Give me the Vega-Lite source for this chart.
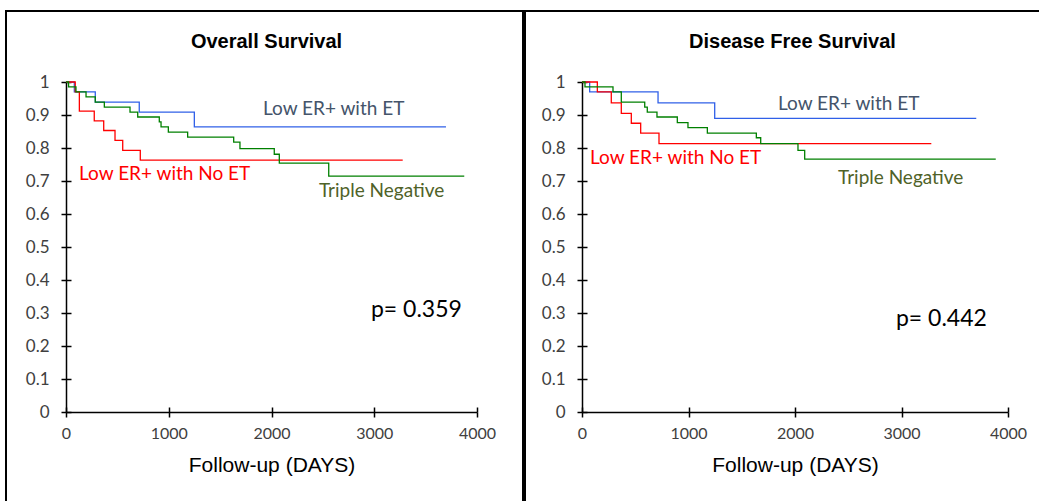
{
  "$schema": "https://vega.github.io/schema/vega-lite/v6.json",
  "padding": {"left": 5, "top": 10, "right": 0, "bottom": 0},
  "autosize": {"type": "pad"},
  "background": "#ffffff",
  "spacing": 0,
  "config": {
    "view": {"stroke": "#000000", "strokeWidth": 2},
    "axis": {"grid": false, "labelFlush": false, "labelOverlap": false}
  },
  "datasets": {
    "curves": [
      {"panel": "OS", "group": "Low ER+ with ET", "day": 0, "surv": 1},
      {"panel": "OS", "group": "Low ER+ with ET", "day": 81, "surv": 0.970},
      {"panel": "OS", "group": "Low ER+ with ET", "day": 285, "surv": 0.939},
      {"panel": "OS", "group": "Low ER+ with ET", "day": 713, "surv": 0.909},
      {"panel": "OS", "group": "Low ER+ with ET", "day": 1249, "surv": 0.864},
      {"panel": "OS", "group": "Low ER+ with ET", "day": 3698, "surv": 0.864},
      {"panel": "OS", "group": "Low ER+ with No ET", "day": 0, "surv": 1},
      {"panel": "OS", "group": "Low ER+ with No ET", "day": 90, "surv": 0.970},
      {"panel": "OS", "group": "Low ER+ with No ET", "day": 130, "surv": 0.912},
      {"panel": "OS", "group": "Low ER+ with No ET", "day": 275, "surv": 0.882},
      {"panel": "OS", "group": "Low ER+ with No ET", "day": 367, "surv": 0.853},
      {"panel": "OS", "group": "Low ER+ with No ET", "day": 477, "surv": 0.823},
      {"panel": "OS", "group": "Low ER+ with No ET", "day": 552, "surv": 0.793},
      {"panel": "OS", "group": "Low ER+ with No ET", "day": 723, "surv": 0.763},
      {"panel": "OS", "group": "Low ER+ with No ET", "day": 3277, "surv": 0.763},
      {"panel": "OS", "group": "Triple Negative", "day": 0, "surv": 1},
      {"panel": "OS", "group": "Triple Negative", "day": 25, "surv": 0.985},
      {"panel": "OS", "group": "Triple Negative", "day": 97, "surv": 0.970},
      {"panel": "OS", "group": "Triple Negative", "day": 195, "surv": 0.955},
      {"panel": "OS", "group": "Triple Negative", "day": 285, "surv": 0.939},
      {"panel": "OS", "group": "Triple Negative", "day": 373, "surv": 0.924},
      {"panel": "OS", "group": "Triple Negative", "day": 623, "surv": 0.909},
      {"panel": "OS", "group": "Triple Negative", "day": 698, "surv": 0.894},
      {"panel": "OS", "group": "Triple Negative", "day": 908, "surv": 0.879},
      {"panel": "OS", "group": "Triple Negative", "day": 925, "surv": 0.864},
      {"panel": "OS", "group": "Triple Negative", "day": 996, "surv": 0.848},
      {"panel": "OS", "group": "Triple Negative", "day": 1184, "surv": 0.833},
      {"panel": "OS", "group": "Triple Negative", "day": 1632, "surv": 0.818},
      {"panel": "OS", "group": "Triple Negative", "day": 1693, "surv": 0.798},
      {"panel": "OS", "group": "Triple Negative", "day": 2027, "surv": 0.781},
      {"panel": "OS", "group": "Triple Negative", "day": 2076, "surv": 0.754},
      {"panel": "OS", "group": "Triple Negative", "day": 2557, "surv": 0.715},
      {"panel": "OS", "group": "Triple Negative", "day": 3876, "surv": 0.715},
      {"panel": "DFS", "group": "Low ER+ with ET", "day": 0, "surv": 1},
      {"panel": "DFS", "group": "Low ER+ with ET", "day": 72, "surv": 0.970},
      {"panel": "DFS", "group": "Low ER+ with ET", "day": 714, "surv": 0.937},
      {"panel": "DFS", "group": "Low ER+ with ET", "day": 1246, "surv": 0.890},
      {"panel": "DFS", "group": "Low ER+ with ET", "day": 3702, "surv": 0.890},
      {"panel": "DFS", "group": "Low ER+ with No ET", "day": 0, "surv": 1},
      {"panel": "DFS", "group": "Low ER+ with No ET", "day": 144, "surv": 0.970},
      {"panel": "DFS", "group": "Low ER+ with No ET", "day": 275, "surv": 0.937},
      {"panel": "DFS", "group": "Low ER+ with No ET", "day": 369, "surv": 0.905},
      {"panel": "DFS", "group": "Low ER+ with No ET", "day": 463, "surv": 0.875},
      {"panel": "DFS", "group": "Low ER+ with No ET", "day": 551, "surv": 0.845},
      {"panel": "DFS", "group": "Low ER+ with No ET", "day": 723, "surv": 0.813},
      {"panel": "DFS", "group": "Low ER+ with No ET", "day": 3280, "surv": 0.813},
      {"panel": "DFS", "group": "Triple Negative", "day": 0, "surv": 1},
      {"panel": "DFS", "group": "Triple Negative", "day": 28, "surv": 0.985},
      {"panel": "DFS", "group": "Triple Negative", "day": 291, "surv": 0.970},
      {"panel": "DFS", "group": "Triple Negative", "day": 369, "surv": 0.939},
      {"panel": "DFS", "group": "Triple Negative", "day": 589, "surv": 0.924},
      {"panel": "DFS", "group": "Triple Negative", "day": 613, "surv": 0.909},
      {"panel": "DFS", "group": "Triple Negative", "day": 704, "surv": 0.894},
      {"panel": "DFS", "group": "Triple Negative", "day": 895, "surv": 0.877},
      {"panel": "DFS", "group": "Triple Negative", "day": 995, "surv": 0.862},
      {"panel": "DFS", "group": "Triple Negative", "day": 1177, "surv": 0.845},
      {"panel": "DFS", "group": "Triple Negative", "day": 1637, "surv": 0.831},
      {"panel": "DFS", "group": "Triple Negative", "day": 1678, "surv": 0.813},
      {"panel": "DFS", "group": "Triple Negative", "day": 2028, "surv": 0.793},
      {"panel": "DFS", "group": "Triple Negative", "day": 2091, "surv": 0.766},
      {"panel": "DFS", "group": "Triple Negative", "day": 3885, "surv": 0.766}
    ],
    "notes": [
      {"panel": "OS", "kind": "ET", "label": "Low ER+ with ET", "tx": 1917, "ty": 0.918},
      {"panel": "OS", "kind": "NoET", "label": "Low ER+ with No ET", "tx": 127, "ty": 0.721},
      {"panel": "OS", "kind": "TN", "label": "Triple Negative", "tx": 2462, "ty": 0.670},
      {"panel": "OS", "kind": "p", "label": "p= 0.359", "tx": 2968, "ty": 0.309},
      {"panel": "DFS", "kind": "ET", "label": "Low ER+ with ET", "tx": 1840, "ty": 0.933},
      {"panel": "DFS", "kind": "NoET", "label": "Low ER+ with No ET", "tx": 75, "ty": 0.770},
      {"panel": "DFS", "kind": "TN", "label": "Triple Negative", "tx": 2404, "ty": 0.709},
      {"panel": "DFS", "kind": "p", "label": "p= 0.442", "tx": 2948, "ty": 0.282}
    ]
  },
  "hconcat": [
    {
      "width": 517,
      "height": 491,
      "title": {"text": "Overall Survival", "frame": "group", "anchor": "middle", "offset": -41, "dx": 2, "font": "Liberation Sans", "fontSize": 20, "fontWeight": "bold", "color": "#000000"},
      "layer": [
        {
          "data": {"name": "curves"},
          "transform": [{"filter": "datum.panel === 'OS'"}],
          "mark": {"type": "line", "interpolate": "step-after", "strokeWidth": 1.3},
          "encoding": {
            "x": {"field": "day", "type": "quantitative",
                  "scale": {"domain": [0, 4000], "range": [60, 471], "nice": false, "zero": false},
                  "axis": {"orient": "bottom", "offset": -90, "values": [0, 1000, 2000, 3000, 4000], "format": "d", "title": "Follow-up (DAYS)",
                           "domainColor": "#000000", "domainWidth": 1.5, "tickColor": "#000000", "tickWidth": 1.5, "tickSize": 5,
                           "labelFont": "Lato", "labelFontSize": 16, "labelColor": "#404040", "labelPadding": 8,
                           "titleFont": "Liberation Sans", "titleFontSize": 21, "titleFontWeight": "normal", "titleColor": "#000000", "titlePadding": 13}},
            "y": {"field": "surv", "type": "quantitative",
                  "scale": {"domain": [0, 1], "range": [401, 71], "nice": false, "zero": false},
                  "axis": {"orient": "left", "offset": -60, "values": [0, 0.1, 0.2, 0.3, 0.4, 0.5, 0.6, 0.7, 0.8, 0.9, 1], "format": "~g", "title": null,
                           "domainColor": "#000000", "domainWidth": 1.5, "tickColor": "#000000", "tickWidth": 1.5, "tickSize": 5,
                           "labelFont": "Lato", "labelFontSize": 17, "labelColor": "#404040", "labelPadding": 12}},
            "color": {"field": "group", "type": "nominal",
                      "scale": {"domain": ["Low ER+ with ET", "Low ER+ with No ET", "Triple Negative"], "range": ["#3060E8", "#FF0000", "#008000"]},
                      "legend": null}
          }
        },
        {
          "mark": {"type": "rule", "color": "#BFBFBF", "strokeWidth": 1.5},
          "encoding": {
            "x": {"datum": 0, "type": "quantitative", "axis": {"orient": "bottom", "offset": -90, "values": [0, 1000, 2000, 3000, 4000], "labels": false, "domain": false, "title": null, "tickSize": -5, "tickColor": "#000000", "tickWidth": 1.5}},
            "x2": {"datum": 4000},
            "y": {"datum": 1, "type": "quantitative", "axis": null}
          }
        },
        {
          "mark": {"type": "rule", "color": "#BFBFBF", "strokeWidth": 1.5},
          "encoding": {
            "x": {"datum": 4000, "type": "quantitative", "axis": null},
            "y": {"datum": 0, "type": "quantitative", "axis": {"orient": "left", "offset": -60, "values": [0, 0.1, 0.2, 0.3, 0.4, 0.5, 0.6, 0.7, 0.8, 0.9, 1], "labels": false, "domain": false, "title": null, "tickSize": -5, "tickColor": "#000000", "tickWidth": 1.5}},
            "y2": {"datum": 1}
          }
        },
        {
          "data": {"name": "notes"},
          "transform": [{"filter": "datum.panel === 'OS'"}],
          "mark": {"type": "text", "align": "left", "baseline": "middle", "font": "Lato"},
          "encoding": {
            "x": {"field": "tx", "type": "quantitative", "axis": null},
            "y": {"field": "ty", "type": "quantitative", "axis": null},
            "text": {"field": "label"},
            "size": {"condition": {"test": "datum.kind === 'p'", "value": 23}, "value": 19},
            "color": {"field": "kind", "type": "nominal",
                      "scale": {"domain": ["ET", "NoET", "TN", "p"], "range": ["#44546A", "#FF0000", "#4F6228", "#000000"]},
                      "legend": null}
          }
        }
      ],
      "resolve": {"scale": {"color": "independent"}, "axis": {"x": "independent", "y": "independent"}}
    },
    {
      "width": 517,
      "height": 491,
      "title": {"text": "Disease Free Survival", "frame": "group", "anchor": "middle", "offset": -41, "dx": 9, "font": "Liberation Sans", "fontSize": 20, "fontWeight": "bold", "color": "#000000"},
      "layer": [
        {
          "data": {"name": "curves"},
          "transform": [{"filter": "datum.panel === 'DFS'"}],
          "mark": {"type": "line", "interpolate": "step-after", "strokeWidth": 1.3},
          "encoding": {
            "x": {"field": "day", "type": "quantitative",
                  "scale": {"domain": [0, 4000], "range": [57, 483], "nice": false, "zero": false},
                  "axis": {"orient": "bottom", "offset": -90, "values": [0, 1000, 2000, 3000, 4000], "format": "d", "title": "Follow-up (DAYS)",
                           "domainColor": "#000000", "domainWidth": 1.5, "tickColor": "#000000", "tickWidth": 1.5, "tickSize": 5,
                           "labelFont": "Lato", "labelFontSize": 16, "labelColor": "#404040", "labelPadding": 8,
                           "titleFont": "Liberation Sans", "titleFontSize": 21, "titleFontWeight": "normal", "titleColor": "#000000", "titlePadding": 13}},
            "y": {"field": "surv", "type": "quantitative",
                  "scale": {"domain": [0, 1], "range": [401, 71], "nice": false, "zero": false},
                  "axis": {"orient": "left", "offset": -57, "values": [0, 0.1, 0.2, 0.3, 0.4, 0.5, 0.6, 0.7, 0.8, 0.9, 1], "format": "~g", "title": null,
                           "domainColor": "#000000", "domainWidth": 1.5, "tickColor": "#000000", "tickWidth": 1.5, "tickSize": 5,
                           "labelFont": "Lato", "labelFontSize": 17, "labelColor": "#404040", "labelPadding": 12}},
            "color": {"field": "group", "type": "nominal",
                      "scale": {"domain": ["Low ER+ with ET", "Low ER+ with No ET", "Triple Negative"], "range": ["#3060E8", "#FF0000", "#008000"]},
                      "legend": null}
          }
        },
        {
          "mark": {"type": "rule", "color": "#BFBFBF", "strokeWidth": 1.5},
          "encoding": {
            "x": {"datum": 0, "type": "quantitative", "axis": {"orient": "bottom", "offset": -90, "values": [0, 1000, 2000, 3000, 4000], "labels": false, "domain": false, "title": null, "tickSize": -5, "tickColor": "#000000", "tickWidth": 1.5}},
            "x2": {"datum": 4000},
            "y": {"datum": 1, "type": "quantitative", "axis": null}
          }
        },
        {
          "mark": {"type": "rule", "color": "#BFBFBF", "strokeWidth": 1.5},
          "encoding": {
            "x": {"datum": 4000, "type": "quantitative", "axis": null},
            "y": {"datum": 0, "type": "quantitative", "axis": {"orient": "left", "offset": -57, "values": [0, 0.1, 0.2, 0.3, 0.4, 0.5, 0.6, 0.7, 0.8, 0.9, 1], "labels": false, "domain": false, "title": null, "tickSize": -5, "tickColor": "#000000", "tickWidth": 1.5}},
            "y2": {"datum": 1}
          }
        },
        {
          "data": {"name": "notes"},
          "transform": [{"filter": "datum.panel === 'DFS'"}],
          "mark": {"type": "text", "align": "left", "baseline": "middle", "font": "Lato"},
          "encoding": {
            "x": {"field": "tx", "type": "quantitative", "axis": null},
            "y": {"field": "ty", "type": "quantitative", "axis": null},
            "text": {"field": "label"},
            "size": {"condition": {"test": "datum.kind === 'p'", "value": 23}, "value": 19},
            "color": {"field": "kind", "type": "nominal",
                      "scale": {"domain": ["ET", "NoET", "TN", "p"], "range": ["#44546A", "#FF0000", "#4F6228", "#000000"]},
                      "legend": null}
          }
        }
      ],
      "resolve": {"scale": {"color": "independent"}, "axis": {"x": "independent", "y": "independent"}}
    }
  ]
}
